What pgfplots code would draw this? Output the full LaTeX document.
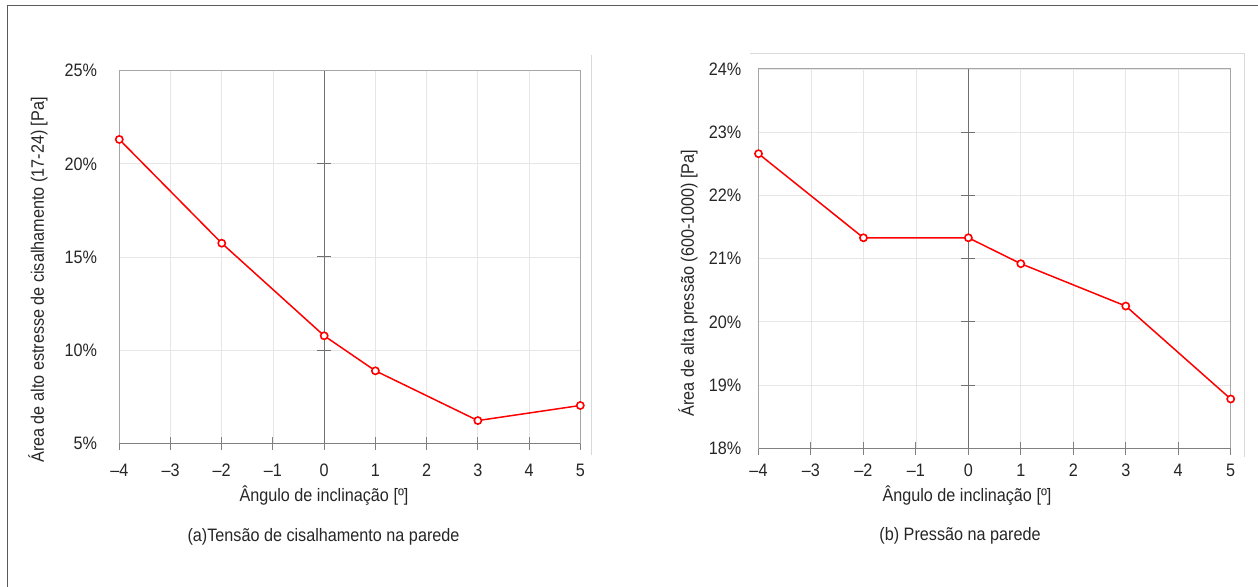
\documentclass[border=0pt]{standalone}
\usepackage{fontspec}
\setmainfont{Liberation Sans}[FakeStretch=0.9]
\usepackage{pgfplots}
\pgfplotsset{compat=1.18}

\definecolor{gridc}{HTML}{E6E6E6}
\definecolor{framec}{HTML}{A6A6A6}
\definecolor{axisc}{HTML}{808080}
\definecolor{zeroc}{HTML}{707070}
\definecolor{panelc}{HTML}{D9D9D9}
\definecolor{outerc}{HTML}{5A5A5A}
\definecolor{txtc}{HTML}{262626}
\newcommand\lbl{\fontsize{18bp}{21bp}\selectfont\color{txtc}}

\pgfplotsset{
  panel/.style={
    scale only axis, anchor=south west, clip=false,
    xmin=-4, xmax=5, xtick={-4,...,5},
    xticklabels={–4,–3,–2,–1,0,1,2,3,4,5},
    grid=major, major grid style={gridc, line width=0.8bp},
    axis line style={framec, line width=1bp},
    tick align=center, major tick length=13bp,
    xtick pos=left, ytick pos=left,
    xtick style={axisc, line width=1bp},
    ytick style={draw=none},
    /pgf/number format/assume math mode=true,
    yticklabel={\pgfmathprintnumber{\tick}\%},
    tick label style={font=\lbl, inner sep=0pt},
    xticklabel style={anchor=north},
    yticklabel style={anchor=east},
  },
  series/.style={red, line width=1.5bp, mark=*,
    mark options={draw=red, fill=white, line width=1.6bp},
    mark size=3.6bp},
}
% short tick across the vertical line at x = 0
\newcommand\zerotick[1]{%
  \draw[zeroc, line width=1bp] ([xshift=-7bp]axis cs:0,#1) -- ([xshift=7bp]axis cs:0,#1);}

\begin{document}
\begin{tikzpicture}
\useasboundingbox (0,0) rectangle (1258bp,587bp);

% outer frame
\draw[outerc, line width=1.5bp] (7.5bp,-2bp) -- (7.5bp,581.3bp) -- (1260bp,581.3bp);
% chart area borders
\draw[panelc, line width=1bp] (591.7bp,532bp) -- (591.7bp,132bp);
\draw[panelc, line width=1bp] (750bp,533.7bp) -- (1244.5bp,533.7bp) -- (1244.5bp,130bp);

% (a) wall shear stress
\begin{axis}[panel, at={(119.3bp,143.7bp)}, width=461bp, height=372.6bp,
  ymin=5, ymax=25, ytick={5,10,...,25},
  xticklabel style={yshift=-14bp},
  yticklabel style={xshift=-15.5bp}]
  \draw[axisc, line width=1bp] (axis cs:-4,5) -- (axis cs:5,5);
  \draw[zeroc, line width=1bp] (axis cs:0,5) -- (axis cs:0,25);
  \zerotick{10}\zerotick{15}\zerotick{20}
  \addplot[series] coordinates {
    (-4,21.31) (-2,15.74) (0,10.77) (1,8.89) (3,6.22) (5,7.03)};
\end{axis}

% (b) wall pressure
\begin{axis}[panel, at={(758.5bp,138.7bp)}, width=472.2bp, height=379.3bp,
  ymin=18, ymax=24, ytick={18,...,24},
  xticklabel style={yshift=-9bp},
  yticklabel style={xshift=-10.5bp}]
  \draw[axisc, line width=1bp] (axis cs:-4,18) -- (axis cs:5,18);
  \draw[zeroc, line width=1bp] (axis cs:0,18) -- (axis cs:0,24);
  \zerotick{19}\zerotick{20}\zerotick{21}\zerotick{22}\zerotick{23}
  \addplot[series] coordinates {
    (-4,22.66) (-2,21.33) (0,21.33) (1,20.92) (3,20.25) (5,18.78)};
\end{axis}

% axis titles and captions
\node[font=\lbl, rotate=90] at (38bp,307bp) {Área de alto estresse de cisalhamento (17-24) [Pa]};
\node[font=\lbl] at (324bp,91bp) {Ângulo de inclinação [º]};
\node[font=\lbl] at (323.5bp,50bp) {(a)Tensão de cisalhamento na parede};

\node[font=\lbl, rotate=90] at (688bp,304bp) {Área de alta pressão (600-1000) [Pa]};
\node[font=\lbl] at (967bp,91bp) {Ângulo de inclinação [º]};
\node[font=\lbl] at (960bp,51bp) {(b) Pressão na parede};
\end{tikzpicture}
\end{document}
